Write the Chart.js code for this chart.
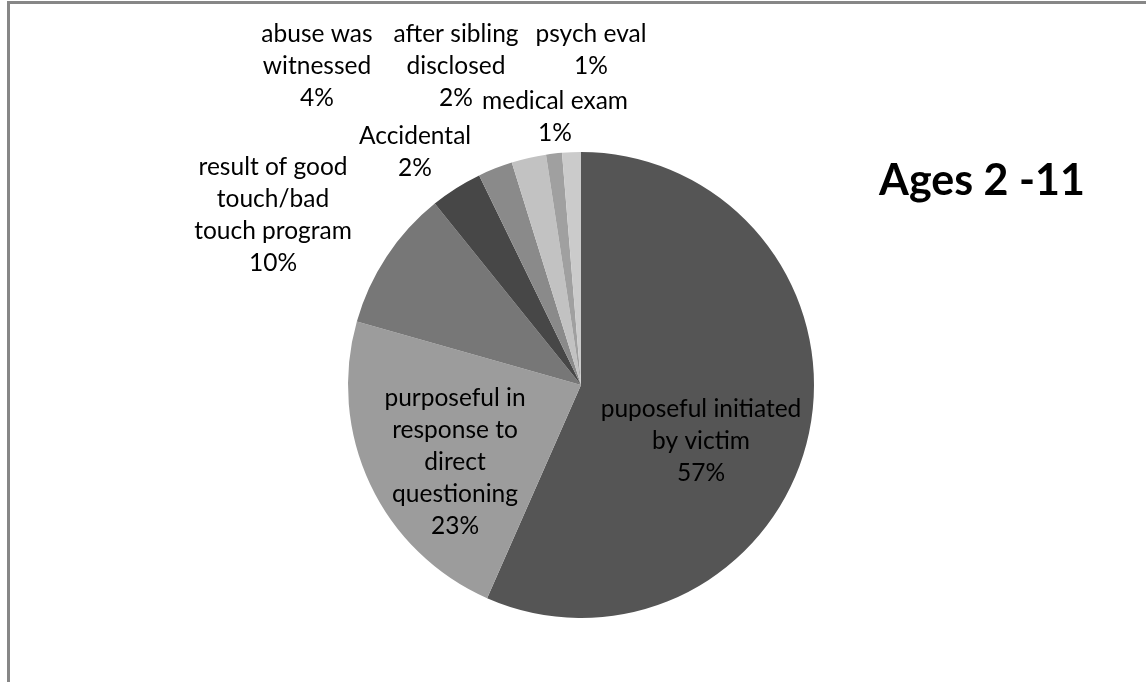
<!DOCTYPE html>
<html>
<head>
<meta charset="utf-8">
<script src="https://cdn.jsdelivr.net/npm/chart.js@4.4.1/dist/chart.umd.min.js"></script>
<style>
  html, body { margin: 0; padding: 0; background: #ffffff; }
  #wrap { position: relative; width: 1146px; height: 682px; overflow: hidden; background: #fff; }
  #frame { position: absolute; left: 7px; top: 1px; width: 1146px; height: 700px;
           border-top: 3px solid #878787; border-left: 3px solid #878787; box-sizing: border-box; }
  canvas { position: absolute; left: 0; top: 0; }
</style>
</head>
<body>
<div id="wrap">
  <div id="frame"></div>
  <canvas id="c" width="1146" height="682"></canvas>
</div>
<script>
// ---- data ----
const categories = [
  "puposeful initiated by victim",
  "purposeful in response to direct questioning",
  "result of good touch/bad touch program",
  "abuse was witnessed",
  "Accidental",
  "after sibling disclosed",
  "medical exam",
  "psych eval"
];
// label line-wrapping as shown in the chart
const categoryLines = [
  ["puposeful initiated", "by victim"],
  ["purposeful in", "response to", "direct", "questioning"],
  ["result of good", "touch/bad", "touch program"],
  ["abuse was", "witnessed"],
  ["Accidental"],
  ["after sibling", "disclosed"],
  ["medical exam"],
  ["psych eval"]
];
const values = [56.6, 22.8, 9.8, 3.6, 2.4, 2.4, 1.1, 1.3];
const sliceColors = ["#555555", "#9c9c9c", "#777777", "#474747", "#8a8a8a", "#c2c2c2", "#a0a0a0", "#cbcbcb"];
const chartTitle = "Ages 2 -11";

// ---- label layout (centre x, middle y of first line) ----
const labelAnchors = [
  [701, 409], [455, 398], [273, 167], [317, 34],
  [415, 136], [456, 34], [555, 101], [591, 34]
];
const LINE_H = 32;
const LABEL_FONT = "24.5px Lato";

const labelPlugin = {
  id: 'excelLabels',
  afterDraw(chart) {
    const ctx = chart.ctx;
    const total = values.reduce((a, b) => a + b, 0);
    ctx.save();
    ctx.fillStyle = "#000000";
    ctx.font = LABEL_FONT;
    ctx.textAlign = "center";
    ctx.textBaseline = "middle";
    categoryLines.forEach((lines, i) => {
      const pct = Math.round(values[i] / total * 100) + "%";
      const [x, y] = labelAnchors[i];
      lines.forEach((t, k) => ctx.fillText(t, x, y + k * LINE_H));
      ctx.fillText(pct, x, y + lines.length * LINE_H);
    });
    // title
    ctx.font = "bold 43px Lato";
    ctx.textAlign = "center";
    ctx.textBaseline = "alphabetic";
    ctx.fillText(chartTitle, 982, 195);
    ctx.restore();
  }
};

new Chart(document.getElementById('c'), {
  type: 'pie',
  data: {
    labels: categories,
    datasets: [{
      data: values,
      backgroundColor: sliceColors,
      borderWidth: 0
    }]
  },
  options: {
    responsive: false,
    animation: false,
    layout: { padding: { left: 348, right: 332, top: 152, bottom: 64 } },
    plugins: {
      legend: { display: false },
      tooltip: { enabled: false },
      title: { display: false }
    }
  },
  plugins: [labelPlugin]
});
</script>
</body>
</html>
